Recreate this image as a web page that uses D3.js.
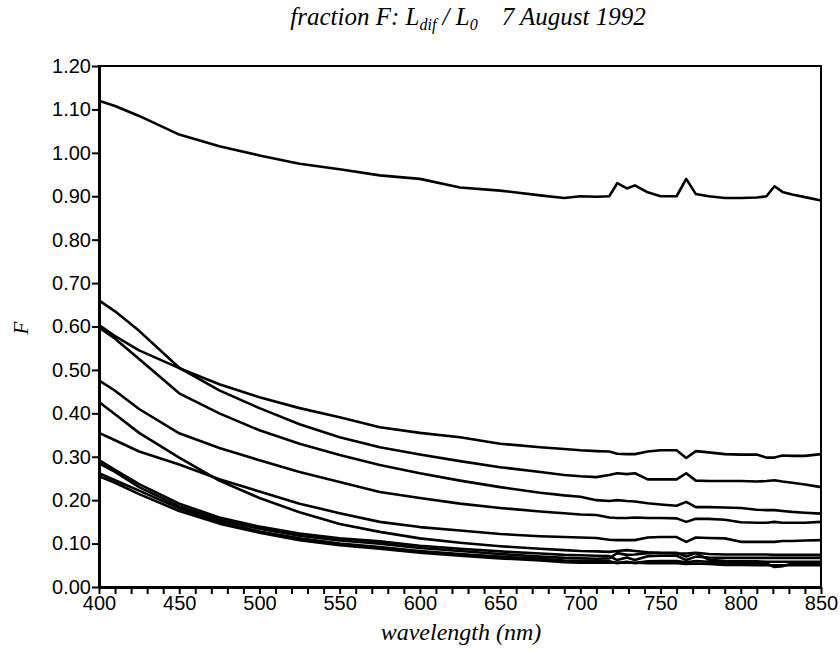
<!DOCTYPE html>
<html>
<head>
<meta charset="utf-8">
<script src="https://cdn.jsdelivr.net/npm/d3@7"></script>
<style>
  body { margin: 0; background: #fff; }
  svg text { fill: #000; }
</style>
</head>
<body>
<div id="chart"></div>
<script>
// wavelength grid (nm), shared by all curves
var wl = [400,410,425,450,475,500,525,550,575,600,625,650,675,690,700,710,718,723,729,734,742,750,760,766,772,780,790,800,810,816,821,826,832,840,850];

// fraction F, one array per curve
var fTop = [1.12,1.108,1.085,1.042,1.015,0.994,0.975,0.962,0.948,0.940,0.920,0.913,0.902,0.896,0.900,0.899,0.900,0.930,0.918,0.925,0.909,0.900,0.900,0.940,0.905,0.900,0.896,0.896,0.897,0.900,0.923,0.910,0.904,0.898,0.890];
var fA = [0.603,0.578,0.545,0.504,0.467,0.437,0.412,0.391,0.368,0.355,0.345,0.330,0.322,0.318,0.315,0.313,0.312,0.307,0.306,0.306,0.312,0.315,0.315,0.297,0.313,0.310,0.306,0.305,0.305,0.298,0.298,0.303,0.302,0.302,0.306];
var fB = [0.660,0.635,0.590,0.505,0.453,0.412,0.375,0.345,0.322,0.305,0.290,0.276,0.265,0.258,0.255,0.253,0.258,0.262,0.260,0.262,0.248,0.248,0.248,0.262,0.245,0.244,0.244,0.244,0.243,0.244,0.246,0.243,0.240,0.236,0.230];
var fC = [0.598,0.572,0.525,0.446,0.400,0.361,0.330,0.304,0.281,0.262,0.245,0.230,0.217,0.211,0.208,0.200,0.198,0.200,0.198,0.197,0.193,0.190,0.187,0.196,0.184,0.184,0.183,0.182,0.178,0.177,0.177,0.175,0.173,0.171,0.169];
var fD = [0.476,0.452,0.410,0.354,0.320,0.292,0.265,0.242,0.219,0.205,0.192,0.182,0.174,0.170,0.167,0.166,0.160,0.159,0.159,0.160,0.159,0.159,0.158,0.150,0.157,0.157,0.155,0.149,0.148,0.148,0.150,0.148,0.148,0.148,0.150];
var fE = [0.355,0.338,0.312,0.282,0.248,0.220,0.192,0.170,0.150,0.138,0.130,0.122,0.117,0.115,0.114,0.113,0.109,0.108,0.108,0.108,0.114,0.115,0.115,0.104,0.114,0.113,0.112,0.104,0.104,0.104,0.104,0.106,0.106,0.107,0.108];
var fF = [0.426,0.398,0.355,0.298,0.245,0.205,0.172,0.145,0.127,0.112,0.102,0.094,0.088,0.085,0.083,0.082,0.081,0.083,0.085,0.083,0.080,0.078,0.077,0.077,0.079,0.076,0.075,0.075,0.075,0.075,0.074,0.074,0.074,0.074,0.074];
var fG = [0.292,0.270,0.237,0.192,0.160,0.139,0.123,0.112,0.105,0.095,0.088,0.082,0.077,0.074,0.073,0.072,0.071,0.062,0.068,0.062,0.071,0.072,0.072,0.062,0.070,0.068,0.067,0.067,0.067,0.067,0.067,0.067,0.067,0.067,0.067];
var fH = [0.285,0.265,0.230,0.186,0.155,0.134,0.118,0.107,0.100,0.090,0.083,0.076,0.070,0.067,0.066,0.065,0.066,0.078,0.074,0.075,0.078,0.079,0.079,0.070,0.078,0.063,0.060,0.059,0.059,0.058,0.058,0.058,0.058,0.058,0.058];
var fI = [0.262,0.246,0.222,0.181,0.150,0.128,0.112,0.100,0.092,0.083,0.076,0.070,0.065,0.061,0.060,0.060,0.059,0.055,0.058,0.055,0.059,0.060,0.060,0.057,0.060,0.058,0.055,0.055,0.055,0.054,0.046,0.048,0.054,0.054,0.054];
var fJ = [0.255,0.240,0.214,0.175,0.146,0.125,0.108,0.096,0.088,0.079,0.072,0.066,0.061,0.057,0.056,0.056,0.056,0.056,0.056,0.056,0.055,0.055,0.055,0.053,0.054,0.053,0.051,0.051,0.050,0.050,0.050,0.050,0.050,0.050,0.050];

var curves = [fTop, fA, fB, fC, fD, fE, fF, fG, fH, fI, fJ];

var yTicks = [0,0.1,0.2,0.3,0.4,0.5,0.6,0.7,0.8,0.9,1.0,1.1,1.2];
var xMajor = [400,450,500,550,600,650,700,750,800,850];

// set the dimensions and margins of the graph
var margin = {top: 66, right: 19, bottom: 65, left: 99},
    width = 840 - margin.left - margin.right,
    height = 652 - margin.top - margin.bottom;

var svg = d3.select("#chart")
  .append("svg")
  .attr("width", 840)
  .attr("height", 652)
  .append("g")
  .attr("transform", "translate(" + margin.left + "," + margin.top + ")");

var x = d3.scaleLinear().domain([400, 850]).range([0, width]);
var y = d3.scaleLinear().domain([0, 1.2]).range([height, 0]);

// frame (top and right)
svg.append("rect")
  .attr("x", 0).attr("y", 0)
  .attr("width", width).attr("height", height)
  .attr("fill", "none")
  .attr("stroke", "#000")
  .attr("stroke-width", 2);

// X axis: minor ticks every 10 nm, labels every 50
var xAxis = svg.append("g")
  .attr("transform", "translate(0," + height + ")")
  .call(d3.axisBottom(x)
    .tickValues(d3.range(400, 851, 10))
    .tickSize(7)
    .tickSizeOuter(0)
    .tickFormat(function(d) { return xMajor.indexOf(d) >= 0 ? d : ""; }));
xAxis.select(".domain").attr("stroke-width", 3);
xAxis.selectAll(".tick line").attr("stroke-width", 2);
xAxis.selectAll("text")
  .attr("y", 9)
  .style("font-family", "'Liberation Sans', Arial, sans-serif")
  .style("font-size", "20px");

// Y axis
var yAxis = svg.append("g")
  .call(d3.axisLeft(y)
    .tickValues(yTicks)
    .tickSize(7)
    .tickSizeOuter(0)
    .tickFormat(d3.format(".2f")));
yAxis.select(".domain").attr("stroke-width", 3);
yAxis.selectAll(".tick line").attr("stroke-width", 2);
yAxis.selectAll("text")
  .attr("x", -8)
  .style("font-family", "'Liberation Sans', Arial, sans-serif")
  .style("font-size", "20px");

// curves
var line = d3.line()
  .x(function(d, i) { return x(wl[i]); })
  .y(function(d) { return y(d); });

svg.selectAll("path.curve")
  .data(curves)
  .enter()
  .append("path")
    .attr("class", "curve")
    .attr("d", line)
    .attr("fill", "none")
    .attr("stroke", "#000")
    .attr("stroke-width", 2.6)
    .attr("stroke-linejoin", "round");

// title
var title = svg.append("text")
  .attr("x", 369)
  .attr("y", -41)
  .attr("text-anchor", "middle")
  .style("font-family", "'Liberation Serif', 'Times New Roman', serif")
  .style("font-style", "italic")
  .style("font-size", "25px");
title.append("tspan").text("fraction F: L");
title.append("tspan").attr("dy", 5).style("font-size", "16px").text("dif");
title.append("tspan").attr("dy", -5).text(" / L");
title.append("tspan").attr("dy", 5).style("font-size", "16px").text("0");
title.append("tspan").attr("dy", -5).attr("dx", 24).text("7 August 1992");

// X axis label
svg.append("text")
  .attr("text-anchor", "middle")
  .attr("x", 362)
  .attr("y", height + 53)
  .style("font-family", "'Liberation Serif', 'Times New Roman', serif")
  .style("font-style", "italic")
  .style("font-size", "24px")
  .text("wavelength (nm)");

// Y axis label
svg.append("text")
  .attr("text-anchor", "middle")
  .attr("transform", "rotate(-90)")
  .attr("x", -(328 - margin.top))
  .attr("y", -margin.left + 28)
  .style("font-family", "'Liberation Serif', 'Times New Roman', serif")
  .style("font-style", "italic")
  .style("font-size", "21px")
  .text("F");
</script>
</body>
</html>
